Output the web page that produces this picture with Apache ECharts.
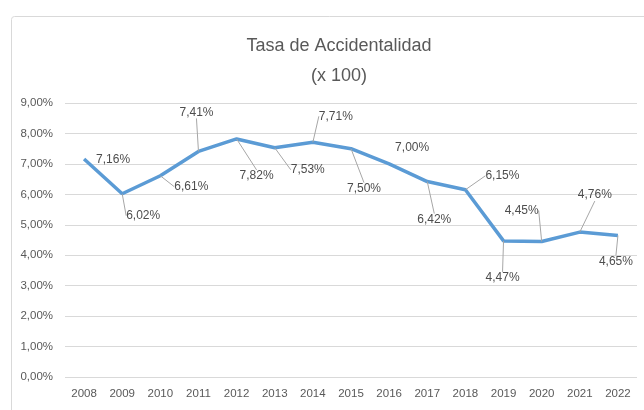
<!DOCTYPE html>
<html>
<head>
<meta charset="utf-8">
<script src="https://cdn.jsdelivr.net/npm/echarts@6/dist/echarts.min.js"></script>
<style>
  html, body { margin: 0; padding: 0; background: #fff; }
  #chart { width: 644px; height: 410px; }
</style>
</head>
<body>
<div id="chart"></div>
<script>
// años y tasa de accidentalidad (%)
const years = ['2008', '2009', '2010', '2011', '2012', '2013', '2014', '2015',
               '2016', '2017', '2018', '2019', '2020', '2021', '2022'];
const rates = [7.16, 6.02, 6.61, 7.41, 7.82, 7.53, 7.71, 7.50,
               7.00, 6.42, 6.15, 4.47, 4.45, 4.76, 4.65];
const yTicks = [0, 1, 2, 3, 4, 5, 6, 7, 8, 9];

// desplazamiento de cada etiqueta respecto a su punto (px)
const labelShift = [
    [29, 1], [21, 22], [31, 11], [-2, -39], [20, 37], [33, 22], [23, -26], [13, 40],
    [23, -16], [7, 38], [37, -14], [-1, 37], [-20, -31], [15, -37], [-2, 26]
];
// etiquetas sin línea guía
const noGuide = [0, 8];

function fmt(v) {
    return v.toFixed(2).replace('.', ',') + '%';
}

const chart = echarts.init(document.getElementById('chart'));

const option = {
    animation: false,
    textStyle: { fontFamily: 'Liberation Sans, Arial, sans-serif' },
    title: {
        text: 'Tasa de Accidentalidad\n(x 100)',
        left: 334,
        top: 26,
        textAlign: 'center',
        textStyle: {
            fontSize: 18,
            fontWeight: 'normal',
            color: '#595959',
            lineHeight: 30,
            fontFamily: 'Liberation Sans, Arial, sans-serif'
        }
    },
    graphic: [
        {
            type: 'rect',
            left: 9,
            top: 14,
            shape: { width: 700, height: 500, r: 3 },
            style: { fill: 'none', stroke: '#d9d9d9', lineWidth: 1 },
            silent: true
        }
    ],
    grid: { left: 65, right: 7, top: 103, bottom: 33 },
    xAxis: {
        type: 'category',
        data: years,
        boundaryGap: true,
        axisLine: { show: false },
        axisTick: { show: false },
        axisLabel: { color: '#595959', fontSize: 11.5, margin: 11 }
    },
    yAxis: {
        type: 'value',
        min: yTicks[0],
        max: yTicks[yTicks.length - 1],
        interval: 1,
        axisLine: { show: false },
        axisTick: { show: false },
        splitLine: { lineStyle: { color: '#d9d9d9', width: 1 } },
        axisLabel: {
            color: '#595959',
            fontSize: 11.5,
            margin: 12,
            formatter: (v) => fmt(v)
        }
    },
    series: [{
        type: 'line',
        data: rates.map((v, i) => noGuide.includes(i)
            ? { value: v, labelLine: { show: false } }
            : v),
        showSymbol: true,
        symbol: 'circle',
        symbolSize: 0.1,
        itemStyle: { color: '#5B9BD5' },
        lineStyle: { color: '#5B9BD5', width: 3.5 },
        label: {
            show: true,
            position: 'inside',
            color: '#4d4d4d',
            fontSize: 12,
            formatter: (p) => fmt(p.value)
        },
        labelLine: {
            show: true,
            lineStyle: { color: '#a6a6a6', width: 1 }
        },
        labelLayout: function (params) {
            const s = labelShift[params.dataIndex];
            return { dx: s[0], dy: s[1] };
        }
    }]
};

chart.setOption(option);
</script>
</body>
</html>
